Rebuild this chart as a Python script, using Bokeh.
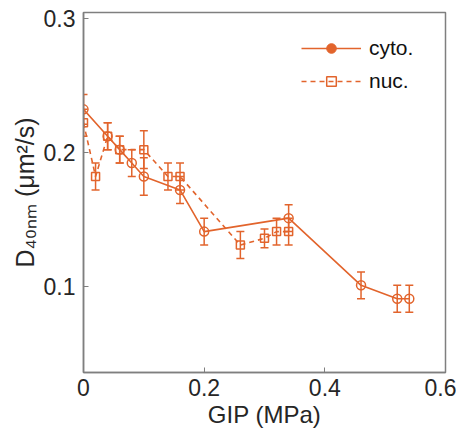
from bokeh.plotting import figure
from bokeh.models import (ColumnDataSource, Whisker, TeeHead, Range1d, FixedTicker,
                          NumeralTickFormatter, Legend, LegendItem)
from bokeh.embed import file_html
from bokeh.resources import INLINE

# ---- data ----
cyto_x = [0.0, 0.04, 0.06, 0.08, 0.10, 0.16, 0.20, 0.34, 0.46, 0.52, 0.54]
cyto_y = [0.232, 0.212, 0.202, 0.192, 0.182, 0.172, 0.141, 0.151, 0.101, 0.091, 0.091]
cyto_err = [0.011, 0.010, 0.010, 0.010, 0.014, 0.010, 0.010, 0.010, 0.010, 0.010, 0.010]

nuc_x = [0.0, 0.02, 0.04, 0.06, 0.10, 0.14, 0.16, 0.26, 0.30, 0.32, 0.34]
nuc_y = [0.222, 0.182, 0.212, 0.202, 0.202, 0.182, 0.182, 0.131, 0.136, 0.141, 0.141]
nuc_err = [0.010, 0.010, 0.010, 0.010, 0.014, 0.010, 0.010, 0.010, 0.007, 0.010, 0.010]

x_ticks = [0, 0.2, 0.4, 0.6]
y_ticks = [0.1, 0.2, 0.3]
series_labels = ["cyto.", "nuc."]
x_label = "GIP (MPa)"
y_label = "D\u2084\u2080\u2099\u2098 (\u03bcm\u00b2/s)"

COLOR = "#E2642C"
AXIS = "#7f7f7f"
TXT = "#262626"
FONT = "Liberation Sans"

p = figure(width=456, height=430, output_backend="svg", toolbar_location=None,
           x_range=Range1d(0, 0.6), y_range=Range1d(0.0361, 0.3041),
           min_border_left=83, min_border_right=11, min_border_top=12, min_border_bottom=57)
p.grid.visible = False
p.background_fill_color = "white"
p.border_fill_color = "white"
p.outline_line_color = AXIS
p.outline_line_width = 1.5

for ax in (p.xaxis[0], p.yaxis[0]):
    ax.axis_line_color = AXIS
    ax.axis_line_width = 1.5
    ax.major_tick_line_color = AXIS
    ax.major_tick_line_width = 1
    ax.major_tick_in = 5
    ax.major_tick_out = 0
    ax.minor_tick_line_color = None
    ax.major_label_text_font = FONT
    ax.major_label_text_font_size = "23px"
    ax.major_label_text_color = TXT
    ax.formatter = NumeralTickFormatter(format="0.[0]")
    ax.axis_label_text_font = FONT
    ax.axis_label_text_font_style = "normal"
    ax.axis_label_text_color = TXT
p.xaxis.axis_label_text_font_size = "24px"
p.yaxis.axis_label_text_font_size = "25px"
p.xaxis.ticker = FixedTicker(ticks=x_ticks)
p.yaxis.ticker = FixedTicker(ticks=y_ticks)
p.xaxis.major_label_standoff = 6
p.yaxis.major_label_standoff = 8
p.xaxis.axis_label = x_label
p.yaxis.axis_label = y_label
p.xaxis.axis_label_standoff = 2
p.yaxis.axis_label_standoff = 2

src_c = ColumnDataSource(dict(x=cyto_x, y=cyto_y,
                              lo=[v - e for v, e in zip(cyto_y, cyto_err)],
                              hi=[v + e for v, e in zip(cyto_y, cyto_err)]))
src_n = ColumnDataSource(dict(x=nuc_x, y=nuc_y,
                              lo=[v - e for v, e in zip(nuc_y, nuc_err)],
                              hi=[v + e for v, e in zip(nuc_y, nuc_err)]))

for src in (src_n, src_c):
    w = Whisker(source=src, base="x", upper="hi", lower="lo",
                line_color=COLOR, line_width=1.5,
                upper_head=TeeHead(size=8, line_color=COLOR, line_width=1.5),
                lower_head=TeeHead(size=8, line_color=COLOR, line_width=1.5))
    p.add_layout(w)

l_n = p.line("x", "y", source=src_n, line_color=COLOR, line_width=1.6, line_dash="5 4")
s_n = p.scatter("x", "y", source=src_n, marker="square", size=8, line_color=COLOR,
                line_width=1.5, fill_alpha=0)
l_c = p.line("x", "y", source=src_c, line_color=COLOR, line_width=1.6)
s_c = p.scatter("x", "y", source=src_c, marker="circle", size=9, line_color=COLOR,
                line_width=1.5, fill_alpha=0)
# filled circle used only for the legend glyph
leg_c = p.scatter("x", "y", source=src_c, marker="circle", size=0, line_color=COLOR,
                  fill_color=COLOR)

legend = Legend(items=[LegendItem(label=series_labels[0], renderers=[l_c, leg_c]),
                       LegendItem(label=series_labels[1], renderers=[l_n, s_n])],
                location=(218, 279), glyph_width=60, glyph_height=24, spacing=9,
                padding=0, margin=0, label_standoff=8,
                label_text_font=FONT, label_text_font_size="21px", label_text_color="#111111",
                border_line_alpha=0, background_fill_alpha=0)
p.add_layout(legend)

open("out.html", "w").write(file_html(p, INLINE))
